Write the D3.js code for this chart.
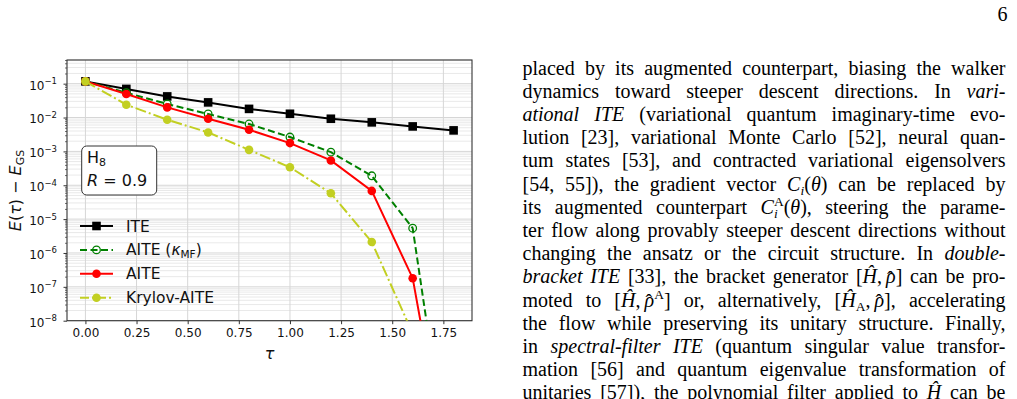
<!DOCTYPE html>
<html><head><meta charset="utf-8">
<script src="https://cdn.jsdelivr.net/npm/d3@7"></script>
<style>body{margin:0;background:#fff;overflow:hidden} svg{display:block}</style>
</head><body>
<svg id="c" width="1017" height="399"></svg>
<script>
// ---------------- data ----------------
const tau = [0, 0.2, 0.4, 0.6, 0.8, 1.0, 1.2, 1.4, 1.6, 1.8];
const iteValues     = [0.117, 0.070, 0.042, 0.028, 0.018, 0.0129, 0.0092, 0.0072, 0.00546, 0.00417];
const aiteMFValues  = [0.117, 0.054, 0.0251, 0.0127, 0.00643, 0.00265, 9.5e-4, 1.9e-4, 5.4e-6, 4e-14];
const aiteValues    = [0.117, 0.0496, 0.0199, 0.0092, 0.00436, 0.00176, 5.4e-4, 6.8e-5, 1.8e-7, 4e-14];
const krylovValues  = [0.117, 0.0239, 0.0086, 0.00363, 0.00111, 3.4e-4, 5.8e-5, 2.1e-6, 4.2e-9, 4e-14];
const seriesNames = ["ITE", "AITE (κMF)", "AITE", "Krylov-AITE"];
const xTickValues = [0, 0.25, 0.5, 0.75, 1.0, 1.25, 1.5, 1.75];
const yTickExponents = [-8, -7, -6, -5, -4, -3, -2, -1];

// ---------------- setup ----------------
const svg = d3.select("#c");
const x = d3.scaleLinear().domain([-0.09, 1.89]).range([67, 472]);
const y = d3.scaleLog().domain([1e-8, 0.5]).range([320.7, 60]);
const FONT = "DejaVu Sans";

svg.append("defs").append("clipPath").attr("id", "clip")
  .append("rect").attr("x", 67).attr("y", 60).attr("width", 405).attr("height", 260.7);

// grid
const minorVals = [];
yTickExponents.forEach(e => { for (let m = 2; m <= 9; m++) { const v = m * Math.pow(10, e); if (v <= 0.5) minorVals.push(v); } });
const grid = svg.append("g");
grid.selectAll(".ym").data(minorVals).join("line")
  .attr("x1", 67).attr("x2", 472).attr("y1", d => y(d)).attr("y2", d => y(d))
  .attr("stroke", "#e3e3e3").attr("stroke-width", 0.8);
grid.selectAll(".yM").data(yTickExponents.map(e => Math.pow(10, e))).join("line")
  .attr("x1", 67).attr("x2", 472).attr("y1", d => y(d)).attr("y2", d => y(d))
  .attr("stroke", "#d6d6d6").attr("stroke-width", 1);
grid.selectAll(".xM").data(xTickValues).join("line")
  .attr("x1", d => x(d)).attr("x2", d => x(d)).attr("y1", 60).attr("y2", 320.7)
  .attr("stroke", "#d6d6d6").attr("stroke-width", 1);

// axes
const xAxis = d3.axisBottom(x).tickValues(xTickValues).tickFormat(d3.format(".2f")).tickSize(3.5).tickPadding(4);
const gx = svg.append("g").attr("transform", "translate(0,320.7)").call(xAxis);
gx.select(".domain").remove();
gx.selectAll("text").attr("font-family", FONT).attr("font-size", 12).attr("fill", "#111");
gx.selectAll("line").attr("stroke", "#333");

const yAxisMinor = d3.axisLeft(y).tickValues(minorVals).tickFormat("").tickSize(2);
const gym = svg.append("g").attr("transform", "translate(67,0)").call(yAxisMinor);
gym.select(".domain").remove();
gym.selectAll("line").attr("stroke", "#333").attr("stroke-width", 0.7);

const yAxis = d3.axisLeft(y).tickValues(yTickExponents.map(e => Math.pow(10, e))).tickSize(3.5).tickPadding(4).tickFormat("");
const gy = svg.append("g").attr("transform", "translate(67,0)").call(yAxis);
gy.select(".domain").remove();
gy.selectAll("line").attr("stroke", "#333");
gy.selectAll("text").each(function (d) {
  const t = d3.select(this).attr("font-family", FONT).attr("font-size", 12).attr("fill", "#111")
    .attr("x", -10).attr("dy", "0.45em");
  const e = Math.round(Math.log10(d));
  t.append("tspan").text("10");
  t.append("tspan").attr("font-size", 8.5).attr("dy", -5.5).text("−" + Math.abs(e));
});

// frame
svg.append("rect").attr("x", 67).attr("y", 60).attr("width", 405).attr("height", 260.7)
  .attr("fill", "none").attr("stroke", "#333").attr("stroke-width", 1.1);

// series
const styles = [
  { values: iteValues, color: "#000000", dash: null, marker: "square", fill: "#000000" },
  { values: aiteMFValues, color: "#008000", dash: "7,3.5", marker: "circle", fill: "none" },
  { values: aiteValues, color: "#ff0000", dash: null, marker: "circle", fill: "#ff0000" },
  { values: krylovValues, color: "#c2cf22", dash: "11,3,2,3", marker: "circle", fill: "#c2cf22" }
];
const line = d3.line().x(d => x(d[0])).y(d => y(d[1]));
const plot = svg.append("g").attr("clip-path", "url(#clip)");

function drawMarker(g, s, cx, cy) {
  if (s.marker === "square") {
    g.append("rect").attr("x", cx - 4.3).attr("y", cy - 4.3).attr("width", 8.6).attr("height", 8.6).attr("fill", s.fill);
  } else if (s.fill === "none") {
    g.append("circle").attr("cx", cx).attr("cy", cy).attr("r", 3.8).attr("fill", "none").attr("stroke", s.color).attr("stroke-width", 1.3);
  } else {
    g.append("circle").attr("cx", cx).attr("cy", cy).attr("r", 4.3).attr("fill", s.fill);
  }
}
styles.forEach(s => {
  const pts = tau.map((t, i) => [t, s.values[i]]);
  const gs = plot.append("g");
  gs.append("path").attr("d", line(pts)).attr("fill", "none").attr("stroke", s.color)
    .attr("stroke-width", 2).attr("stroke-dasharray", s.dash);
  pts.forEach(p => drawMarker(gs, s, x(p[0]), y(p[1])));
});

// legend
const lg = svg.append("g");
styles.forEach((s, i) => {
  const ly = 226 + i * 23.9;
  lg.append("line").attr("x1", 80).attr("x2", 113).attr("y1", ly).attr("y2", ly)
    .attr("stroke", s.color).attr("stroke-width", 2).attr("stroke-dasharray", s.dash ? (i === 1 ? "7,3.5" : "9,3,2,3") : null);
  drawMarker(lg, s, 96.5, ly);
  const t = lg.append("text").attr("x", 126).attr("y", ly + 5.5).attr("font-family", FONT).attr("font-size", 15.5).attr("fill", "#111");
  if (i === 1) {
    t.append("tspan").text("AITE (");
    t.append("tspan").attr("font-style", "italic").text("κ");
    t.append("tspan").attr("font-size", 10.5).attr("dy", 3).text("MF");
    t.append("tspan").attr("dy", -3).text(")");
  } else t.text(seriesNames[i]);
});

// annotation box
svg.append("rect").attr("x", 81.7).attr("y", 146).attr("width", 75).attr("height", 49).attr("rx", 5)
  .attr("fill", "#fff").attr("stroke", "#333").attr("stroke-width", 1);
const a1 = svg.append("text").attr("x", 87).attr("y", 162.5).attr("font-family", FONT).attr("font-size", 16).attr("fill", "#111");
a1.append("tspan").text("H");
a1.append("tspan").attr("font-size", 11).attr("dy", 3).text("8");
const a2 = svg.append("text").attr("x", 87).attr("y", 185.5).attr("font-family", FONT).attr("font-size", 16).attr("fill", "#111");
a2.append("tspan").attr("font-style", "italic").text("R");
a2.append("tspan").text(" = 0.9");

// axis labels
svg.append("text").attr("x", 269.5).attr("y", 359).attr("text-anchor", "middle")
  .attr("font-family", FONT).attr("font-size", 16).attr("font-style", "italic").attr("fill", "#111").text("τ");
const yl = svg.append("text").attr("transform", "translate(21,190.5) rotate(-90)").attr("text-anchor", "middle")
  .attr("font-family", FONT).attr("font-size", 16).attr("fill", "#111");
yl.append("tspan").attr("font-style", "italic").text("E");
yl.append("tspan").text("(");
yl.append("tspan").attr("font-style", "italic").text("τ");
yl.append("tspan").text(") − ");
yl.append("tspan").attr("font-style", "italic").text("E");
yl.append("tspan").attr("font-size", 11).attr("dy", 3).text("GS");

// ---------------- body text ----------------
const N = t => ({ t });
const I = t => ({ t, it: true });
const Sub = (t, it) => ({ t, it, shift: 4.5, size: 13.5 });
const Sup = (t, it) => ({ t, it, shift: -7.5, size: 13.5 });
// rho with a hat placed over it (hat drawn back over the glyph, then the pen is restored)
const RHO = [I("ρ"), { t: "\u02C6", dx: -8.6, shift: 2.5, after: 2.0 }];
const bodyLines = [
  [N("placed by its augmented counterpart, biasing the walker")],
  [N("dynamics toward steeper descent directions. In "), I("vari-")],
  [I("ational ITE"), N(" (variational quantum imaginary-time evo-")],
  [N("lution [23], variational Monte Carlo [52], neural quan-")],
  [N("tum states [53], and contracted variational eigensolvers")],
  [N("[54, 55]), the gradient vector "), I("C"), Sub("i", true), N("("), I("θ"), N(") can be replaced by")],
  [N("its augmented counterpart "), I("C"), Sup("A"), Object.assign(Sub("i", true), { dx: -9.8 }), Object.assign(N("("), { dx: 6.0 }), I("θ"), N("), steering the parame-")],
  [N("ter flow along provably steeper descent directions without")],
  [N("changing the ansatz or the circuit structure. In "), I("double-")],
  [I("bracket ITE"), N(" [33], the bracket generator ["), I("\u0124"), N(",\u2009"), ...RHO, N("] can be pro-")],
  [N("moted to ["), I("\u0124"), N(",\u2009"), ...RHO, Sup("A"), N("] or, alternatively, ["), I("\u0124"), Sub("A"), N(",\u2009"), ...RHO, N("], accelerating")],
  [N("the flow while preserving its unitary structure. Finally,")],
  [N("in "), I("spectral-filter ITE"), N(" (quantum singular value transfor-")],
  [N("mation [56] and quantum eigenvalue transformation of")],
  [N("unitaries [57]), the polynomial filter applied to "), I("\u0124"), N(" can be")]
];
const BODY_FONT = "Liberation Serif", BODY_SIZE = 20;
const left = 522.5, right = 1005.5;
bodyLines.forEach((runs, k) => {
  const t = svg.append("text").attr("x", left).attr("y", 74.5 + k * 23.2)
    .attr("font-family", BODY_FONT).attr("font-size", BODY_SIZE).attr("fill", "#000");
  let cur = 0, spaces = 0, pendingDx = 0, sumDx = 0;
  runs.forEach(r => {
    const sh = r.shift || 0;
    const ts = t.append("tspan").text(r.t);
    if (r.it) ts.attr("font-style", "italic");
    if (r.size) ts.attr("font-size", r.size);
    if (sh !== cur) { ts.attr("dy", sh - cur); cur = sh; }
    const dx = (r.dx || 0) + pendingDx;
    if (dx) { ts.attr("dx", dx); sumDx += dx; }
    pendingDx = r.after || 0;
    spaces += (r.t.match(/ /g) || []).length;
  });
  const w = t.node().getComputedTextLength() + sumDx;
  if (spaces > 0) t.style("word-spacing", ((right - left - w) / spaces) + "px");
});
svg.append("text").attr("x", 1007.5).attr("y", 20.5).attr("text-anchor", "end")
  .attr("font-family", BODY_FONT).attr("font-size", BODY_SIZE).attr("fill", "#000").text("6");
</script>
</body></html>
